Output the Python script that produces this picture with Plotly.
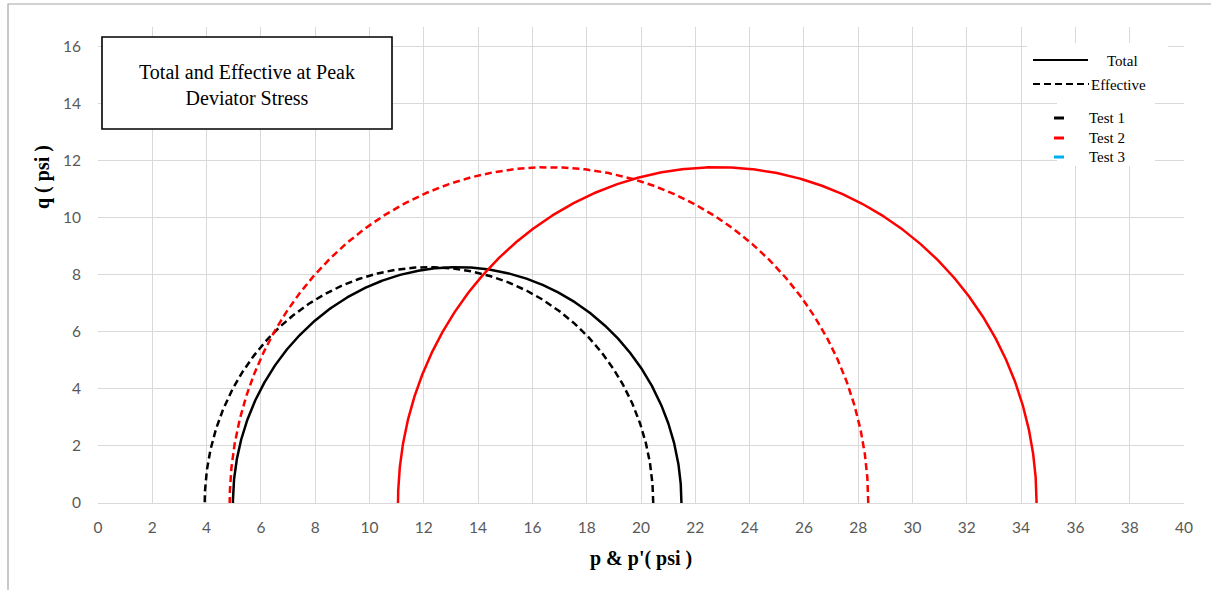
import numpy as np
import plotly.graph_objects as go

# Mohr circle data at peak deviator stress (psi)
tests = ["Test 1", "Test 2", "Test 3"]
test_colors = ["#000000", "#ff0000", "#00b0f0"]
sigma3_total = [4.97, 11.05]      # minor principal total stress
sigma1_total = [21.49, 34.57]     # major principal total stress
pore_pressure = [1.04, 6.20]      # pore pressure at failure

TICK_FONT = dict(family="Lato, 'Open Sans', sans-serif", size=15.5, color="#595959")
SERIF = "'Liberation Serif', 'Times New Roman', serif"
DASH = "7px,4px"

# plot-area geometry in pixels, used to place paper-referenced decorations
W, H = 1211, 590
L, R, T, B = 98, 1184, 27, 503


def px(x):
    return (x - L) / (R - L)


def py(y):
    return (B - y) / (B - T)


fig = go.Figure()

theta = np.linspace(0, np.pi, 721)
for i in range(len(sigma3_total)):
    s3, s1, u = sigma3_total[i], sigma1_total[i], pore_pressure[i]
    q = (s1 - s3) / 2
    for p_center, dash in [((s1 + s3) / 2, "solid"), ((s1 + s3) / 2 - u, DASH)]:
        fig.add_trace(go.Scatter(
            x=p_center + q * np.cos(theta), y=q * np.sin(theta),
            mode="lines", line=dict(color=test_colors[i], width=2.5, dash=dash),
            showlegend=False, hoverinfo="skip"))

fig.update_layout(
    width=W, height=H,
    margin=dict(l=L, r=W - R, t=T, b=H - B),
    paper_bgcolor="white", plot_bgcolor="white",
    showlegend=False,
    xaxis=dict(range=[0, 40], dtick=2, tick0=0, showgrid=True, gridcolor="#d9d9d9",
               gridwidth=1.3, zeroline=False, showline=True, linecolor="#d9d9d9",
               linewidth=1.3, ticks="", tickfont=TICK_FONT, ticklabelstandoff=10),
    yaxis=dict(range=[0, 16.67], tickvals=list(range(0, 17, 2)), showgrid=True,
               gridcolor="#d9d9d9", gridwidth=1.3, zeroline=False, showline=False,
               ticks="", tickfont=TICK_FONT, ticklabelstandoff=16),
)


def rect(x0, y0, x1, y1, **kw):
    fig.add_shape(type="rect", xref="paper", yref="paper",
                  x0=px(x0), x1=px(x1), y0=py(y1), y1=py(y0), **kw)


def hline(x0, x1, y, color, width, dash="solid"):
    fig.add_shape(type="line", xref="paper", yref="paper",
                  x0=px(x0), x1=px(x1), y0=py(y), y1=py(y),
                  line=dict(color=color, width=width, dash=dash), layer="above")


def text(x, y, s, size, xanchor="center", **kw):
    fig.add_annotation(xref="paper", yref="paper", x=px(x), y=py(y), text=s,
                       showarrow=False, xanchor=xanchor, yanchor="middle",
                       font=dict(family=SERIF, size=size, color="black"), **kw)


# Legend: line styles (total vs effective)
rect(1027, 43, 1168, 101, line=dict(width=0), fillcolor="white", layer="above")
hline(1033, 1088, 60, "black", 2.2)
text(1122, 61, "Total", 15)
hline(1033, 1089, 84, "black", 2.2, DASH)
text(1089, 85, "Effective", 15, xanchor="left")

# Legend: test colours
rect(1057, 101, 1155, 166, line=dict(width=0), fillcolor="white", layer="above")
for name, col, y in zip(tests, test_colors, [118, 138, 157]):
    hline(1054, 1064, y, col, 3)
    text(1087, y, name, 15, xanchor="left")

# Chart title box
rect(102, 37, 392, 129, line=dict(color="black", width=1.6), fillcolor="white",
     layer="above")
text(247, 85, "Total and Effective at Peak<br>Deviator Stress", 20, align="center")

# Axis titles
text(641, 558, "<b>p &amp; p'( psi )</b>", 20)
text(42, 177, "<b>q ( psi )</b>", 20, textangle=-90)

# Outer chart frame
fig.add_shape(type="rect", xref="paper", yref="paper",
              x0=px(8), x1=px(1220), y0=py(600), y1=py(4),
              line=dict(color="#a6a6a6", width=1.2), fillcolor="rgba(0,0,0,0)",
              layer="below")

fig.write_html("out.html")
